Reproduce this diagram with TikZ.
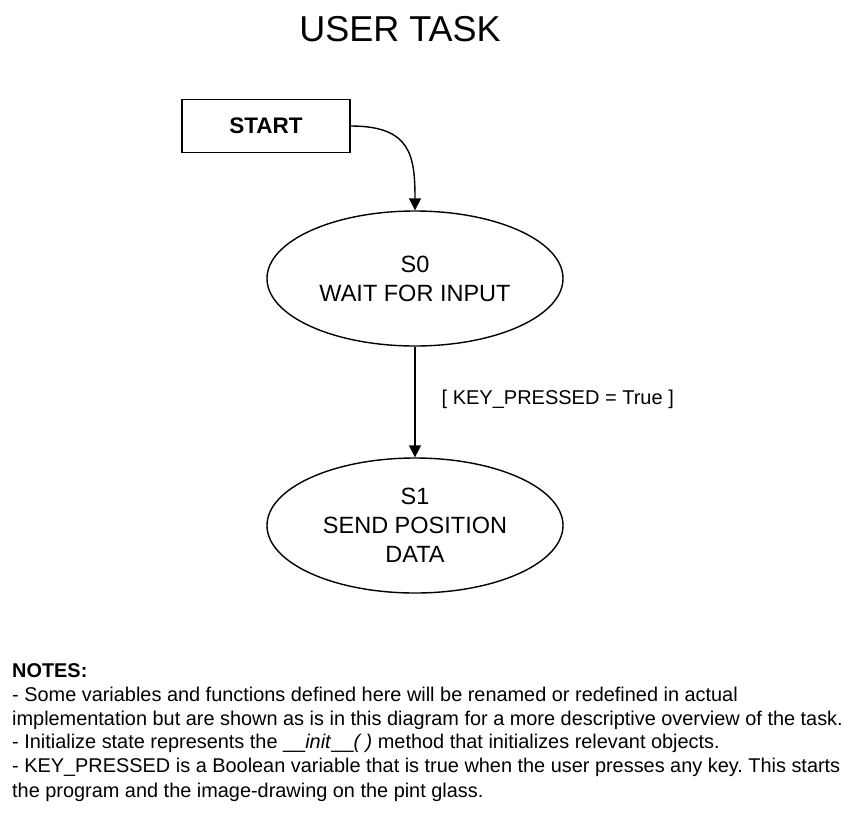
\documentclass[tikz,border=0pt]{standalone}
\usepackage{fontspec}
\setmainfont{Liberation Sans}
\usetikzlibrary{shapes.geometric,arrows.meta}
\frenchspacing
\tikzset{
  statebox/.style={ellipse, draw, line width=1.4pt, minimum width=296pt, minimum height=135pt, inner sep=0pt, align=center, font=\fontsize{23.5}{29}\selectfont},
  startbox/.style={rectangle, draw, line width=1.4pt, minimum width=168pt, minimum height=53pt, inner sep=0pt, font=\fontsize{22.5}{27}\selectfont\bfseries},
  conn/.style={line width=1.4pt, -{Triangle[length=12pt,width=12pt]}},
  noteline/.style={anchor=base west, inner sep=0pt, font=\fontsize{19.9}{24}\selectfont},
}
\begin{document}
\begin{tikzpicture}[x=1pt,y=-1pt]
\useasboundingbox (0,0) rectangle (859,812);
\node[anchor=base, inner sep=0pt, font=\fontsize{36}{40}\selectfont] (title) at (400,41) {USER TASK};
\node[startbox] (start) at (266,126) {START};
\node[statebox] (s0) at (415,278.5) {S0\\WAIT FOR INPUT};
\node[statebox] (s1) at (415,525.5) {S1\\SEND POSITION\\DATA};
\draw[conn] (start.east) .. controls +(60,0) and +(0,-55) .. (s0.north);
\draw[conn] (s0.south) -- (s1.north) node[pos=0.45, anchor=west, xshift=26pt, yshift=-3pt, inner sep=0pt, font=\fontsize{20}{24}\selectfont] (lbl) {[ KEY\_PRESSED = True ]};
\node[noteline, font=\fontsize{19.9}{24}\selectfont\bfseries] (n0) at (12,677) {NOTES:};
\node[noteline] (n1) at (12,701) {- Some variables and functions defined here will be renamed or redefined in actual};
\node[noteline] (n2) at (12,725) {implementation but are shown as is in this diagram for a more descriptive overview of the task.};
\node[noteline] (n3) at (12,748) {- Initialize state represents the \_\_\textit{init}\_\_\textit{( )} method that initializes relevant objects.};
\node[noteline] (n4) at (12,772) {- KEY\_PRESSED is a Boolean variable that is true when the user presses any key. This starts};
\node[noteline] (n5) at (12,797) {the program and the image-drawing on the pint glass.};
\end{tikzpicture}
\end{document}
